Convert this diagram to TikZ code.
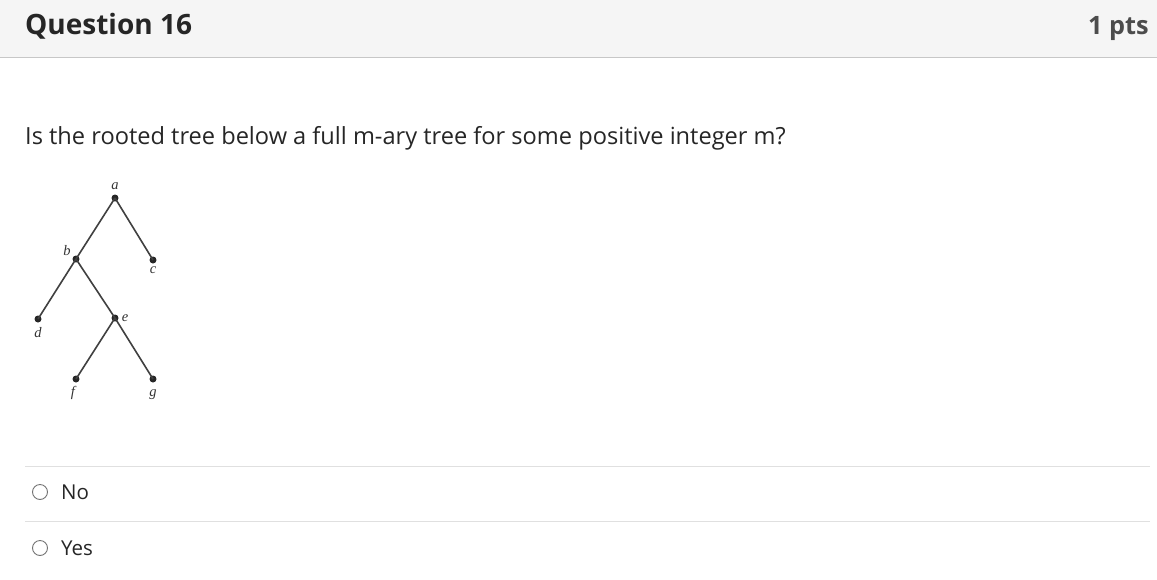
\documentclass[tikz,border=0pt]{standalone}
\usepackage{fontspec}
\setmainfont{Open Sans}
\newfontfamily\treefont{Liberation Serif}
\begin{document}
\begin{tikzpicture}[x=1pt,y=-1pt,
  vtx/.style={circle,fill=black!85,inner sep=0pt,minimum size=7pt},
  lbl/.style={inner sep=0pt,font=\treefont\itshape\fontsize{14.5}{14}\selectfont,text=black!80},
  edge/.style={draw=black!75,line width=1.6pt},
  sep/.style={draw=black!12,line width=1pt},
  radio/.style={circle,draw=black!55,line width=0.9pt,minimum size=15pt,inner sep=0pt}]
\useasboundingbox (0,0) rectangle (1157,579);
\fill[white] (0,0) rectangle (1157,579);
\fill[black!4] (0,0) rectangle (1157,57);
\draw[draw=black!22,line width=1.5pt] (0,57.5) -- (1157,57.5);
\node[anchor=base west,inner sep=0pt,font=\bfseries\fontsize{28}{28}\selectfont,text=black!85] (title) at (25,34) {Question 16};
\node[anchor=base east,inner sep=0pt,font=\bfseries\fontsize{25.3}{25}\selectfont,text=black!70] (pts) at (1149,34) {1 pts};
\node[anchor=base west,inner sep=0pt,font=\fontsize{23.6}{24}\selectfont,text=black!85] (q) at (25,144) {Is the rooted tree below a full m-ary tree for some positive integer m?};
% tree
\node[vtx] (a) at (115,198) {};
\node[vtx] (b) at (76,259) {};
\node[vtx] (c) at (153,260) {};
\node[vtx] (d) at (38,319) {};
\node[vtx] (e) at (115,318) {};
\node[vtx] (f) at (76,379) {};
\node[vtx] (g) at (153,379) {};
\draw[edge] (a.center) -- (b.center);
\draw[edge] (a.center) -- (c.center);
\draw[edge] (b.center) -- (d.center);
\draw[edge] (b.center) -- (e.center);
\draw[edge] (e.center) -- (f.center);
\draw[edge] (e.center) -- (g.center);
\node[lbl] (la) at (115,186) {a};
\node[lbl] (lb) at (67,251) {b};
\node[lbl] (lc) at (153,270) {c};
\node[lbl] (ld) at (38,333) {d};
\node[lbl] (le) at (125,318) {e};
\node[lbl] (lf) at (73,393) {f};
\node[lbl] (lg) at (153,395) {g};
% answers
\draw[sep] (25,466) -- (1150,466);
\draw[sep] (25,521) -- (1150,521);
\node[radio] (r1) at (40,492) {};
\node[radio] (r2) at (40,548) {};
\node[anchor=west,inner sep=0pt,font=\fontsize{20.5}{20}\selectfont,text=black!85] (no) at (61,492) {No};
\node[anchor=west,inner sep=0pt,font=\fontsize{20.5}{20}\selectfont,text=black!85] (yes) at (61,548) {Yes};
\end{tikzpicture}
\end{document}
